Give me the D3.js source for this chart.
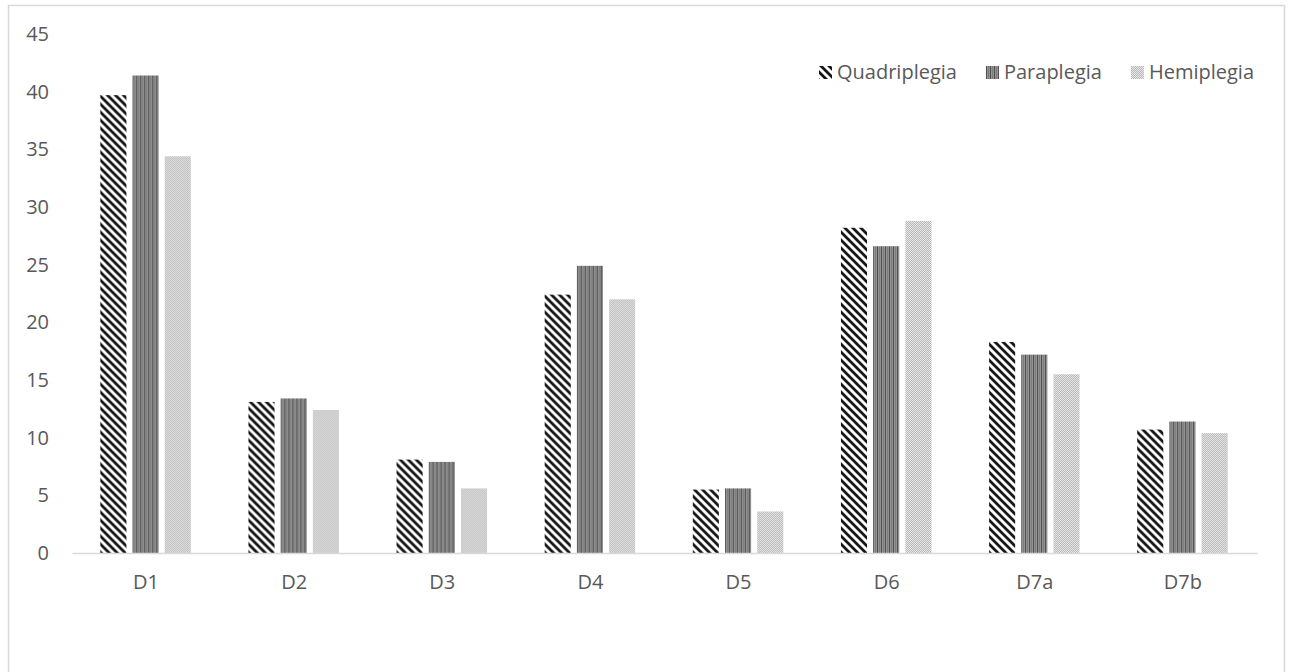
<!DOCTYPE html>
<html>
<head>
<meta charset="utf-8">
<script src="https://cdn.jsdelivr.net/npm/d3@7"></script>
<style>
  html, body { margin: 0; padding: 0; background: #fff; }
  svg { display: block; }
  text { font-family: "Open Sans", "Noto Sans", sans-serif; fill: #595959; }
</style>
</head>
<body>
<svg id="chart" width="1290" height="672"></svg>
<script>
// Categories and series
const categories = ["D1", "D2", "D3", "D4", "D5", "D6", "D7a", "D7b"];
const seriesNames = ["Quadriplegia", "Paraplegia", "Hemiplegia"];
const quadriplegia = [39.7, 13.1, 8.1, 22.4, 5.5, 28.2, 18.3, 10.7];
const paraplegia   = [41.4, 13.4, 7.9, 24.9, 5.6, 26.6, 17.2, 11.4];
const hemiplegia   = [34.4, 12.4, 5.6, 22.0, 3.6, 28.8, 15.5, 10.4];
const yTicks = [0, 5, 10, 15, 20, 25, 30, 35, 40, 45];

const seriesValues = [quadriplegia, paraplegia, hemiplegia];
const rows = categories.map((c, i) => ({
  cat: c,
  vals: seriesNames.map((s, k) => ({ key: s, value: seriesValues[k][i] }))
}));

const FONT = "20px";
const svg = d3.select("#chart");

// Outer chart frame
svg.append("rect")
  .attr("x", 8.5).attr("y", 5.5)
  .attr("width", 1276).attr("height", 720)
  .attr("fill", "#fff").attr("stroke", "#d9d9d9").attr("stroke-width", 1.5);

// Fill patterns
const defs = svg.append("defs");

// wide downward diagonal
const pQ = defs.append("pattern").attr("id", "pat-quad")
  .attr("patternUnits", "userSpaceOnUse").attr("width", 8).attr("height", 8);
pQ.append("rect").attr("width", 8).attr("height", 8).attr("fill", "#fff");
pQ.append("path").attr("d", "M-2,-2 L10,10 M-6,2 L2,10 M6,-2 L10,2")
  .attr("stroke", "#151515").attr("stroke-width", 2.8);

// dark vertical
const pP = defs.append("pattern").attr("id", "pat-para")
  .attr("patternUnits", "userSpaceOnUse").attr("width", 4).attr("height", 4);
pP.append("rect").attr("width", 4).attr("height", 4).attr("fill", "#979797");
pP.append("rect").attr("width", 1).attr("height", 4).attr("fill", "#4a4a4a");
pP.append("rect").attr("x", 2).attr("width", 1).attr("height", 4).attr("fill", "#7a7a7a");

// light dotted grid
const pH = defs.append("pattern").attr("id", "pat-hemi")
  .attr("patternUnits", "userSpaceOnUse").attr("width", 2).attr("height", 2);
pH.append("rect").attr("width", 2).attr("height", 2).attr("fill", "#ebebeb");
pH.append("rect").attr("x", 0).attr("y", 0).attr("width", 1).attr("height", 1).attr("fill", "#b4b4b4");
pH.append("rect").attr("x", 1).attr("y", 1).attr("width", 1).attr("height", 1).attr("fill", "#b4b4b4");

const fills = { "Quadriplegia": "url(#pat-quad)", "Paraplegia": "url(#pat-para)", "Hemiplegia": "url(#pat-hemi)" };

// Scales
const plotLeft = 72, plotRight = 1257, plotTop = 34, plotBottom = 553;
const x0 = d3.scaleBand().domain(categories).range([plotLeft, plotRight]).paddingInner(0).paddingOuter(0);
const groupW = 90.5;
const x1 = d3.scaleBand().domain(seriesNames).range([0, groupW]).paddingInner(0.19).paddingOuter(0);
const y = d3.scaleLinear().domain([0, 45]).range([plotBottom, plotTop]);

// Y axis labels (no axis line)
const yAxis = d3.axisLeft(y).tickValues(yTicks).tickSize(0).tickPadding(0).tickFormat(d3.format("d"));
const yg = svg.append("g").attr("transform", "translate(49,0)").call(yAxis);
yg.select(".domain").remove();
yg.selectAll("text").style("font-size", FONT).attr("fill", "#595959")
  .style("font-family", "'Open Sans', sans-serif");

// Bars
const groups = svg.append("g").selectAll("g").data(rows).join("g")
  .attr("transform", d => `translate(${x0(d.cat) + x0.bandwidth() / 2 - groupW / 2 - 0.5},0)`);
groups.selectAll("rect").data(d => d.vals).join("rect")
  .attr("x", d => x1(d.key))
  .attr("y", d => y(d.value))
  .attr("width", x1.bandwidth())
  .attr("height", d => y(0) - y(d.value) + 1)
  .attr("fill", d => fills[d.key]);

// X axis
const xAxis = d3.axisBottom(x0).tickSize(0).tickPadding(22);
const xg = svg.append("g").attr("transform", `translate(0,${plotBottom})`).call(xAxis);
xg.select(".domain").attr("stroke", "#d9d9d9").attr("stroke-width", 1.5);
xg.selectAll("text").style("font-size", FONT).attr("fill", "#595959")
  .style("font-family", "'Open Sans', sans-serif");

// Legend (right-aligned, laid out from measured text widths)
const legend = svg.append("g");
const items = legend.selectAll("g").data(seriesNames).join("g");
items.append("rect").attr("width", 13).attr("height", 13).attr("y", 66)
  .attr("fill", d => fills[d]);
items.append("text").attr("x", 18).attr("y", 79).text(d => d)
  .style("font-size", FONT);
const widths = [];
items.each(function () { widths.push(this.querySelector("text").getComputedTextLength()); });
let cursor = 1254;
const xs = [];
for (let i = seriesNames.length - 1; i >= 0; i--) {
  const w = 18 + widths[i];
  cursor -= w;
  xs[i] = cursor;
  cursor -= 29;
}
items.attr("transform", (d, i) => `translate(${xs[i]},0)`);
</script>
</body>
</html>
